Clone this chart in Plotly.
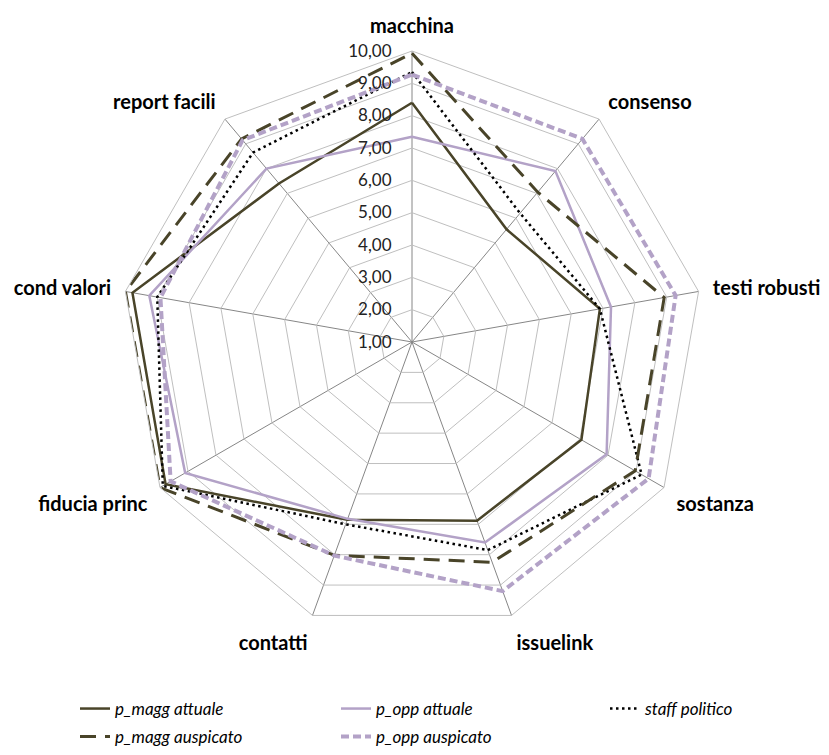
import plotly.graph_objects as go

# Radar categories, clockwise from the top
categories = ["macchina", "consenso", "testi robusti", "sostanza", "issuelink",
              "contatti", "fiducia princ", "cond valori", "report facili"]

# Scores per category (scale 1-10)
p_magg_attuale = [8.40, 5.55, 6.90, 7.05, 6.88, 6.85, 9.80, 9.78, 7.40]
p_opp_attuale = [7.35, 7.90, 7.25, 7.95, 7.60, 6.82, 9.10, 9.25, 8.00]
staff_politico = [9.35, 6.20, 6.90, 9.20, 7.85, 7.00, 9.90, 9.00, 8.65]
p_magg_auspicato = [9.93, 7.05, 8.92, 8.97, 8.25, 8.02, 10.00, 10.00, 9.20]
p_opp_auspicato = [9.27, 9.20, 9.28, 9.45, 9.20, 8.03, 9.62, 8.90, 9.15]

# Radial ticks, Italian decimal comma
tick_values = [1, 2, 3, 4, 5, 6, 7, 8, 9, 10]
tick_labels = ["1,00", "2,00", "3,00", "4,00", "5,00", "6,00", "7,00", "8,00", "9,00", "10,00"]

OLIVE = "#494429"
LAVENDER = "#B3A2C7"

# (name, values, line style, legend block)
series = [
    ("p_magg attuale", p_magg_attuale, dict(color=OLIVE, width=2.5, dash="solid"), "legend"),
    ("p_opp attuale", p_opp_attuale, dict(color=LAVENDER, width=2.5, dash="solid"), "legend"),
    ("staff politico", staff_politico, dict(color="#000000", width=2.5, dash="2.5px,3.5px"), "legend3"),
    ("p_magg auspicato", p_magg_auspicato, dict(color=OLIVE, width=3, dash="16px,9px"), "legend2"),
    ("p_opp auspicato", p_opp_auspicato, dict(color=LAVENDER, width=4, dash="8px,4px"), "legend2"),
]

fig = go.Figure()
for name, vals, line, leg in series:
    fig.add_trace(go.Scatterpolar(
        r=vals + vals[:1],
        theta=categories + categories[:1],
        mode="lines",
        name=name,
        line=line,
        legend=leg,
        cliponaxis=False,
    ))

W, H = 829, 755
cx, cy, R = 412, 342, 291

legend_style = dict(
    orientation="h",
    xanchor="left", yanchor="top",
    entrywidth=216, entrywidthmode="pixels",
    font=dict(size=17, style="italic"),
    bgcolor="rgba(0,0,0,0)",
    itemclick=False,
)

fig.update_layout(
    width=W, height=H,
    margin=dict(l=0, r=0, t=0, b=0),
    paper_bgcolor="white",
    plot_bgcolor="white",
    font=dict(family="Lato, 'Open Sans', sans-serif", color="#000000", size=15),
    polar=dict(
        domain=dict(x=[(cx - R) / W, (cx + R) / W], y=[1 - (cy + R) / H, 1 - (cy - R) / H]),
        bgcolor="white",
        gridshape="linear",
        angularaxis=dict(
            direction="clockwise",
            rotation=90,
            showgrid=True,
            gridcolor="#868686",
            gridwidth=1,
            showline=True,
            linecolor="#BFBFBF",
            linewidth=1,
            ticks="outside",
            ticklen=10,
            tickcolor="rgba(0,0,0,0)",
            tickfont=dict(family="Lato, sans-serif", size=20, weight="bold", color="#000000"),
        ),
        radialaxis=dict(
            range=[1, 10],
            angle=90,
            tickangle=90,
            side="counterclockwise",
            tickvals=tick_values,
            ticktext=tick_labels,
            showgrid=True,
            gridcolor="#BFBFBF",
            gridwidth=1,
            showline=False,
            ticks="outside",
            ticklen=14,
            tickcolor="rgba(0,0,0,0)",
            tickfont=dict(size=17, color="#222222"),
        ),
    ),
    legend=dict(legend_style, x=75 / W, y=1 - 691 / H),
    legend3=dict(legend_style, x=605 / W, y=1 - 691 / H, entrywidth=120),
    legend2=dict(legend_style, x=75 / W, y=0, yanchor="bottom"),
)

fig.write_html("out.html")
